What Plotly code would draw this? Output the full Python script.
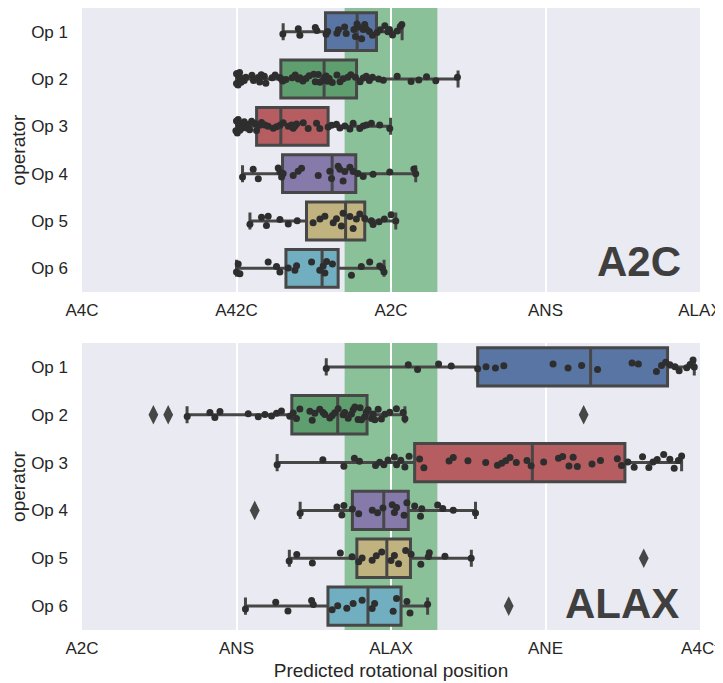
import plotly.graph_objects as go

# ---------------- data ----------------
operators = ["Op 1", "Op 2", "Op 3", "Op 4", "Op 5", "Op 6"]
tick_positions = [0, 1, 2, 3, 4]
a2c_tick_labels = ["A4C", "A42C", "A2C", "ANS", "ALAX"]
alax_tick_labels = ["A2C", "ANS", "ALAX", "ANE", "A4Cf"]
target_band = [1.7, 2.3]

box_colors = ["#5875A3", "#5F9E6E", "#B55D60", "#857AAA", "#C1B37F", "#71AEC0"]

# ---- panel A2C: box statistics ----
a2c_lower = [1.302, 1.000, 1.000, 1.039, 1.087, 1.000]
a2c_q1 = [1.576, 1.287, 1.130, 1.298, 1.453, 1.320]
a2c_median = [1.781, 1.567, 1.287, 1.619, 1.706, 1.554]
a2c_q3 = [1.906, 1.777, 1.593, 1.772, 1.830, 1.658]
a2c_upper = [2.072, 2.434, 1.997, 2.160, 2.031, 1.955]

# ---- panel A2C: individual predictions ----
a2c_op1 = [1.30, 1.40, 1.41, 1.51, 1.52, 1.58, 1.59, 1.65, 1.66, 1.70, 1.71, 1.76, 1.77, 1.78,
           1.79, 1.81, 1.82, 1.83, 1.84, 1.86, 1.88, 1.91, 1.93, 1.96, 1.98, 1.99, 2.01, 2.04,
           2.06, 2.07]
a2c_op2 = [1.00, 1.00, 1.01, 1.02, 1.02, 1.03, 1.04, 1.05, 1.06, 1.10, 1.11, 1.14, 1.15, 1.16,
           1.18, 1.19, 1.23, 1.25, 1.28, 1.29, 1.30, 1.32, 1.36, 1.38, 1.40, 1.41, 1.43, 1.45,
           1.47, 1.50, 1.51, 1.53, 1.54, 1.56, 1.57, 1.58, 1.59, 1.60, 1.62, 1.65, 1.67, 1.69,
           1.72, 1.74, 1.77, 1.80, 1.82, 1.84, 1.86, 1.88, 1.92, 1.95, 2.04, 2.13, 2.18, 2.23,
           2.29, 2.43]
a2c_op3 = [0.996, 1.00, 1.005, 1.011, 1.015, 1.022, 1.027, 1.033, 1.044, 1.05, 1.065, 1.076,
           1.085, 1.098, 1.119, 1.130, 1.151, 1.162, 1.184, 1.205, 1.238, 1.259, 1.281, 1.302,
           1.335, 1.356, 1.367, 1.378, 1.389, 1.432, 1.464, 1.518, 1.539, 1.593, 1.615, 1.647,
           1.669, 1.701, 1.734, 1.755, 1.798, 1.820, 1.841, 1.873, 1.927, 1.992]
a2c_op4 = [1.039, 1.108, 1.141, 1.270, 1.281, 1.292, 1.302, 1.367, 1.399, 1.421, 1.529, 1.604,
           1.615, 1.658, 1.669, 1.690, 1.701, 1.734, 1.755, 1.787, 1.820, 1.884, 1.992, 2.148,
           2.160]
a2c_op5 = [1.087, 1.162, 1.194, 1.205, 1.281, 1.335, 1.393, 1.496, 1.540, 1.572, 1.626, 1.647,
           1.679, 1.690, 1.734, 1.755, 1.776, 1.798, 1.830, 1.873, 1.884, 1.923, 1.957, 2.001,
           2.031]
a2c_op6 = [1.000, 1.011, 1.022, 1.205, 1.259, 1.281, 1.335, 1.378, 1.389, 1.486, 1.539, 1.561,
           1.572, 1.583, 1.621, 1.744, 1.808, 1.862, 1.927, 1.945, 1.955]

# ---- panel ALAX: box statistics ----
alax_lower = [1.581, 0.680, 1.263, 1.412, 1.342, 1.058]
alax_q1 = [2.561, 1.358, 2.153, 1.750, 1.779, 1.592]
alax_median = [3.292, 1.655, 2.915, 1.953, 1.973, 1.851]
alax_q3 = [3.790, 1.845, 3.514, 2.112, 2.126, 2.065]
alax_upper = [3.963, 2.090, 3.881, 2.547, 2.520, 2.237]

# ---- panel ALAX: individual predictions ----
alax_op1 = [1.581, 2.112, 2.172, 2.308, 2.390, 2.561, 2.615, 2.676, 2.730, 3.049, 3.146, 3.234,
            3.337, 3.560, 3.601, 3.718, 3.751, 3.778, 3.805, 3.838, 3.865, 3.914, 3.936, 3.955,
            3.963]
alax_op2 = [0.681, 0.828, 0.860, 0.893, 1.076, 1.141, 1.184, 1.227, 1.259, 1.291, 1.345, 1.367,
            1.388, 1.410, 1.475, 1.490, 1.507, 1.539, 1.560, 1.572, 1.604, 1.620, 1.636, 1.658,
            1.690, 1.700, 1.723, 1.744, 1.755, 1.766, 1.787, 1.800, 1.809, 1.830, 1.840, 1.852,
            1.874, 1.885, 1.895, 1.917, 1.938, 1.960, 1.992, 2.035, 2.079, 2.090]
alax_op3 = [1.263, 1.559, 1.695, 1.763, 1.796, 1.900, 1.927, 1.954, 1.981, 2.022, 2.036, 2.063,
            2.090, 2.117, 2.185, 2.213, 2.376, 2.403, 2.498, 2.613, 2.689, 2.716, 2.743, 2.770,
            2.811, 2.880, 2.907, 2.988, 3.084, 3.111, 3.152, 3.179, 3.206, 3.301, 3.356, 3.465,
            3.492, 3.533, 3.574, 3.628, 3.669, 3.696, 3.723, 3.765, 3.805, 3.833, 3.860, 3.881]
alax_op4 = [1.412, 1.650, 1.682, 1.695, 1.750, 1.791, 1.879, 1.913, 1.948, 2.008, 2.022, 2.036,
            2.085, 2.103, 2.153, 2.191, 2.199, 2.302, 2.335, 2.403, 2.547]
alax_op5 = [1.341, 1.390, 1.491, 1.672, 1.748, 1.791, 1.813, 1.878, 1.905, 1.940, 2.000, 2.022,
            2.049, 2.095, 2.130, 2.193, 2.242, 2.248, 2.349, 2.519]
alax_op6 = [1.058, 1.254, 1.333, 1.486, 1.497, 1.619, 1.655, 1.714, 1.755, 1.813, 1.878, 1.894,
            2.014, 2.036, 2.103, 2.123, 2.237]

# ---- panel ALAX: outliers (fliers) ----
alax_outlier_ops = ["Op 2", "Op 2", "Op 2", "Op 4", "Op 5", "Op 6"]
alax_outlier_vals = [0.462, 0.558, 3.247, 1.118, 3.636, 2.762]

a2c_points = [a2c_op1, a2c_op2, a2c_op3, a2c_op4, a2c_op5, a2c_op6]
alax_points = [alax_op1, alax_op2, alax_op3, alax_op4, alax_op5, alax_op6]

# ---------------- figure ----------------
FONT = "Liberation Sans, Arial, sans-serif"
TEXT = "#262626"
EDGE = "#474747"
DOT = "#2e2e2e"

fig = go.Figure()


def add_panel(xa, ya, lower, q1, med, q3, upper, points):
    for i, op in enumerate(operators):
        fig.add_trace(go.Box(
            y=[op], q1=[q1[i]], median=[med[i]], q3=[q3[i]],
            lowerfence=[lower[i]], upperfence=[upper[i]],
            orientation="h", width=0.8, whiskerwidth=0.45,
            fillcolor=box_colors[i], line=dict(color=EDGE, width=3),
            boxpoints=False, showlegend=False, hoverinfo="skip",
            xaxis=xa, yaxis=ya))
    for i, op in enumerate(operators):
        fig.add_trace(go.Box(
            x=points[i], y=[op] * len(points[i]), orientation="h",
            width=0.8, boxpoints="all", jitter=0.45, pointpos=0,
            fillcolor="rgba(0,0,0,0)", line=dict(color="rgba(0,0,0,0)", width=0),
            marker=dict(color=DOT, size=7),
            showlegend=False, xaxis=xa, yaxis=ya))


add_panel("x", "y", a2c_lower, a2c_q1, a2c_median, a2c_q3, a2c_upper, a2c_points)
add_panel("x2", "y2", alax_lower, alax_q1, alax_median, alax_q3, alax_upper, alax_points)

fig.add_trace(go.Scatter(
    x=alax_outlier_vals, y=alax_outlier_ops, mode="markers",
    marker=dict(symbol="diamond-tall", size=14, color=EDGE),
    showlegend=False, xaxis="x2", yaxis="y2"))

band_color = "rgba(80,168,98,0.62)"
for xr, yr in [("x", "y domain"), ("x2", "y2 domain")]:
    fig.add_shape(type="rect", xref=xr, yref=yr, x0=target_band[0], x1=target_band[1],
                  y0=0, y1=1, fillcolor=band_color, line=dict(width=0), layer="below")

xcommon = dict(range=[0, 4], tickmode="array", tickvals=tick_positions, showgrid=True,
               gridcolor="white", gridwidth=1.5, zeroline=False, showline=False,
               ticks="", ticklabelstandoff=6, automargin=False,
               tickfont=dict(family=FONT, size=17, color=TEXT))
ycommon = dict(type="category", categoryorder="array", categoryarray=operators,
               range=[5.5, -0.5], showgrid=False, zeroline=False, showline=False,
               ticks="", ticklabelstandoff=13, automargin=False,
               tickfont=dict(family=FONT, size=17, color=TEXT),
               title=dict(text="operator", font=dict(family=FONT, size=19, color=TEXT),
                          standoff=11))

# the page body adds an 8px offset; layout margins compensate for it
fig.update_layout(
    width=723, height=675,
    margin=dict(l=74, r=31, t=0, b=53),
    paper_bgcolor="white", plot_bgcolor="#EAEAF2",
    boxmode="overlay",
    font=dict(family=FONT, color=TEXT),
    xaxis=dict(xcommon, ticktext=a2c_tick_labels, anchor="y"),
    yaxis=dict(ycommon, domain=[0.5434, 1.0], anchor="x"),
    xaxis2=dict(xcommon, ticktext=alax_tick_labels, anchor="y2",
                title=dict(text="Predicted rotational position",
                           font=dict(family=FONT, size=19, color=TEXT), standoff=6)),
    yaxis2=dict(ycommon, domain=[0.0, 0.4614], anchor="x2"),
    annotations=[
        dict(text="<b>A2C</b>", xref="x domain", yref="y domain", x=0.973, y=0.0,
             xanchor="right", yanchor="bottom", showarrow=False, yshift=5,
             font=dict(family=FONT, size=42, color="#3f3f3f")),
        dict(text="<b>ALAX</b>", xref="x2 domain", yref="y2 domain", x=0.97, y=0.0,
             xanchor="right", yanchor="bottom", showarrow=False, yshift=1,
             font=dict(family=FONT, size=42, color="#3f3f3f")),
    ],
)

fig.write_html("out.html")
